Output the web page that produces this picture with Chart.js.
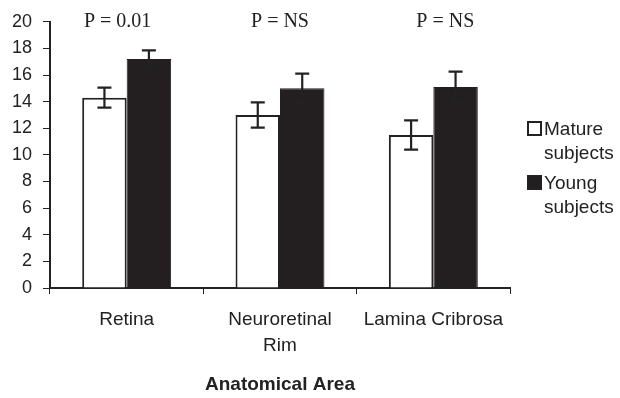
<!DOCTYPE html>
<html>
<head>
<meta charset="utf-8">
<script src="https://cdn.jsdelivr.net/npm/chart.js@4"></script>
<style>
  html, body { margin: 0; padding: 0; background: #fff; }
  #wrap { width: 620px; height: 398px; position: relative; }
</style>
</head>
<body>
<div id="wrap"><canvas id="c" width="620" height="398"></canvas></div>
<script>
// ---- data ----
const categories = [["Retina"], ["Neuroretinal", "Rim"], ["Lamina Cribrosa"]];
const seriesNames = [["Mature", "subjects"], ["Young", "subjects"]];
const matureValues = [14.3, 13.0, 11.5];
const matureErrors = [0.75, 0.95, 1.1];
const youngValues = [17.2, 15.0, 15.1];
const youngErrors = [0.65, 1.1, 1.15];
const pLabels = ["P = 0.01", "P = NS", "P = NS"];
const yTicks = [0, 2, 4, 6, 8, 10, 12, 14, 16, 18, 20];

// ---- style ----
const INK = '#222';
const DARK = '#231f20';
const pLabelDx = [-9, 0, 12];

const errorBars = {
  id: 'errorBars',
  afterDatasetsDraw(chart) {
    const ctx = chart.ctx;
    const ys = chart.scales.y;
    const errs = [matureErrors, youngErrors];
    chart.data.datasets.forEach((ds, di) => {
      const meta = chart.getDatasetMeta(di);
      meta.data.forEach((el, i) => {
        const v = ds.data[i], e = errs[di][i];
        const yt = ys.getPixelForValue(v + e);
        const yb = ys.getPixelForValue(v - e);
        const x = el.x, hw = 7;
        ctx.save();
        ctx.strokeStyle = INK;
        ctx.lineWidth = 2.2;
        ctx.beginPath();
        ctx.moveTo(x, yt); ctx.lineTo(x, yb);
        ctx.moveTo(x - hw, yt); ctx.lineTo(x + hw, yt);
        ctx.moveTo(x - hw, yb); ctx.lineTo(x + hw, yb);
        ctx.stroke();
        ctx.restore();
      });
    });
  }
};

const annotations = {
  id: 'annotations',
  afterDraw(chart) {
    const ctx = chart.ctx;
    const xs = chart.scales.x;
    ctx.save();
    // P labels
    ctx.fillStyle = INK;
    ctx.font = '20px "Liberation Serif", "Times New Roman", serif';
    ctx.textAlign = 'center';
    ctx.textBaseline = 'middle';
    pLabels.forEach((t, i) => {
      ctx.fillText(t, xs.getPixelForValue(i) + pLabelDx[i], 22);
    });
    // legend
    ctx.font = '19px "Liberation Sans", Arial, sans-serif';
    ctx.textAlign = 'left';
    ctx.textBaseline = 'alphabetic';
    const fills = ['#ffffff', DARK];
    const tops = [135, 189];
    seriesNames.forEach((lines, i) => {
      const base = tops[i];
      ctx.fillStyle = fills[i];
      ctx.fillRect(528, base - 13, 13, 13);
      ctx.strokeStyle = INK;
      ctx.lineWidth = 2;
      ctx.strokeRect(528, base - 13, 13, 13);
      ctx.fillStyle = INK;
      ctx.fillText(lines[0], 544, base);
      ctx.fillText(lines[1], 544, base + 24);
    });
    ctx.restore();
  }
};

new Chart(document.getElementById('c'), {
  type: 'bar',
  data: {
    labels: categories,
    datasets: [
      {
        label: seriesNames[0].join(' '),
        data: matureValues,
        backgroundColor: '#ffffff',
        borderColor: INK,
        borderWidth: 2,
        borderSkipped: 'bottom',
        barPercentage: 1.0,
        categoryPercentage: 0.58
      },
      {
        label: seriesNames[1].join(' '),
        data: youngValues,
        backgroundColor: DARK,
        borderColor: DARK,
        borderWidth: 1,
        borderSkipped: 'bottom',
        barPercentage: 1.0,
        categoryPercentage: 0.58
      }
    ]
  },
  options: {
    responsive: false,
    animation: false,
    devicePixelRatio: 1,
    layout: { padding: { top: 20, right: 110, left: 0, bottom: 0 } },
    plugins: {
      legend: { display: false },
      tooltip: { enabled: false }
    },
    scales: {
      x: {
        afterFit(s) { s.height = 110; },
        grid: {
          offset: true,
          drawOnChartArea: false,
          drawTicks: true,
          tickLength: 6,
          color: INK,
          lineWidth: 1
        },
        border: { color: INK, width: 2 },
        ticks: {
          color: INK,
          padding: 12,
          font: { family: '"Liberation Sans", Arial, sans-serif', size: 19, lineHeight: 1.4 },
          maxRotation: 0,
          autoSkip: false
        },
        title: {
          display: true,
          text: 'Anatomical Area',
          color: INK,
          font: { family: '"Liberation Sans", Arial, sans-serif', size: 19, weight: 'bold', lineHeight: 1.2 },
          padding: { top: 0, bottom: 2 }
        }
      },
      y: {
        min: 0,
        max: 20,
        afterFit(s) { s.width = 50; },
        afterBuildTicks(s) { s.ticks = yTicks.map(v => ({ value: v })); },
        grid: {
          drawOnChartArea: false,
          drawTicks: true,
          tickLength: 7,
          color: INK,
          lineWidth: 1
        },
        border: { color: INK, width: 2 },
        ticks: {
          color: INK,
          padding: 11,
          font: { family: '"Liberation Sans", Arial, sans-serif', size: 18 }
        }
      }
    }
  },
  plugins: [errorBars, annotations]
});
</script>
</body>
</html>
